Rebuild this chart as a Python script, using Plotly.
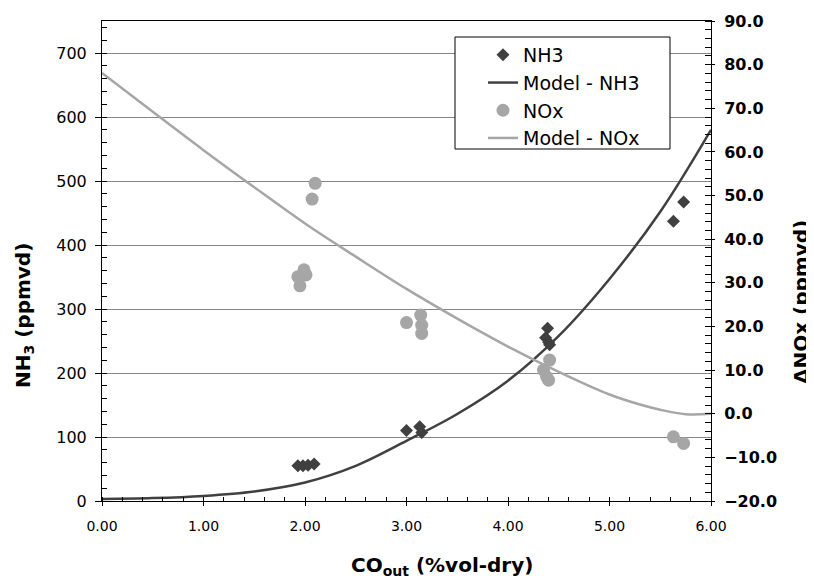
import plotly.graph_objects as go

# ---------------- data ----------------
nh3_x = [1.93, 1.98, 2.03, 2.09, 3.00, 3.13, 3.15, 4.37, 4.39, 4.40, 4.41, 5.63, 5.73]
nh3_y = [55, 55, 56, 58, 110, 116, 107, 255, 270, 248, 244, 437, 467]

nox_x = [1.93, 1.95, 1.99, 2.01, 2.07, 2.10, 3.00, 3.14, 3.15, 3.15, 4.35, 4.38, 4.40, 4.41, 5.63, 5.73]
nox_y = [31.4, 29.3, 33.0, 31.8, 49.2, 52.8, 20.9, 22.6, 20.3, 18.4, 10.0, 8.5, 7.7, 12.3, -5.3, -6.8]

model_nh3_x = [0.0, 0.5, 1.0, 1.5, 2.0, 2.5, 3.0, 3.5, 4.0, 4.5, 5.0, 5.5, 6.0]
model_nh3_y = [3, 4.5, 8, 15, 29, 55, 94, 136, 188, 258, 347, 452, 580]

model_nox_x = [0.0, 0.5, 1.0, 1.5, 2.0, 2.5, 3.0, 3.5, 4.0, 4.5, 5.0, 5.3, 5.5, 5.75, 6.0]
model_nox_y = [78.1, 69.2, 60.4, 51.9, 43.6, 36.0, 28.6, 21.8, 15.4, 9.6, 4.4, 2.1, 0.9, -0.1, 0.0]

x_title = "CO<sub>out</sub> (%vol-dry)"
y_title = "NH<sub>3</sub> (ppmvd)"
y2_title = "ΔNOx (ppmvd)"

DARK = "#404040"
LIGHT = "#a6a6a6"
GRID = "#868686"
FONT = "DejaVu Sans"

# the page body adds an 8px margin, so the figure is drawn 8px smaller and
# all reference pixel positions are shifted by that offset
OFF = 8
W, H = 814 - OFF, 582 - OFF
L, R, T, B = 102 - OFF, 711 - OFF, 21 - OFF, 501 - OFF  # plot area in figure pixels


def px_x(p):
    """reference x pixel -> paper coordinate"""
    return (p - OFF - L) / (R - L)


def px_y(p):
    """reference y pixel -> paper coordinate"""
    return (B - (p - OFF)) / (B - T)


fig = go.Figure()

fig.add_trace(go.Scatter(x=nh3_x, y=nh3_y, mode="markers", name="NH3",
                         marker=dict(symbol="diamond", size=10, color=DARK),
                         xaxis="x", yaxis="y"))
fig.add_trace(go.Scatter(x=model_nh3_x, y=model_nh3_y, mode="lines", name="Model - NH3",
                         line=dict(color=DARK, width=2.5, shape="spline", smoothing=1.0),
                         xaxis="x", yaxis="y"))
fig.add_trace(go.Scatter(x=nox_x, y=nox_y, mode="markers", name="NOx",
                         marker=dict(symbol="circle", size=13, color=LIGHT),
                         xaxis="x", yaxis="y2"))
fig.add_trace(go.Scatter(x=model_nox_x, y=model_nox_y, mode="lines", name="Model - NOx",
                         line=dict(color=LIGHT, width=2.5, shape="spline", smoothing=1.0),
                         xaxis="x", yaxis="y2"))

# dummy traces so the overlay tick axes (inner halves of major ticks) get drawn
for xa, ya in (("x2", "y"), ("x", "y3"), ("x", "y4")):
    fig.add_trace(go.Scatter(x=[None], y=[None], xaxis=xa, yaxis=ya,
                             showlegend=False, hoverinfo="skip"))

tick_common = dict(showgrid=False, zeroline=False, tickcolor="black", linecolor="black",
                   automargin=False)

fig.update_layout(
    template="none",
    width=W, height=H,
    margin=dict(l=L, r=W - R, t=T, b=H - B, pad=0, autoexpand=False),
    paper_bgcolor="white", plot_bgcolor="white",
    font=dict(family=FONT, color="black"),
    showlegend=True,
    xaxis=dict(range=[0, 6], dtick=1, tick0=0, tickformat=".2f",
               ticks="outside", ticklen=4, tickwidth=1,
               showline=True, linewidth=1, mirror=True,
               tickfont=dict(family=FONT, size=14, color="black"),
               ticklabelstandoff=8,
               minor=dict(dtick=0.2, ticks="inside", ticklen=4, tickcolor="black", showgrid=False),
               **tick_common),
    yaxis=dict(range=[0, 750], dtick=100, tick0=0,
               ticks="outside", ticklen=6, tickwidth=1,
               showline=True, linewidth=1,
               showgrid=True, gridcolor=GRID, gridwidth=1,
               zeroline=False, tickcolor="black", linecolor="black", automargin=False,
               tickfont=dict(family=FONT, size=16, color="black"),
               ticklabelstandoff=5,
               minor=dict(dtick=20, ticks="inside", ticklen=5, tickcolor="black", showgrid=False)),
    yaxis2=dict(range=[-20, 90], dtick=10, tick0=0, tickformat=".1f",
                overlaying="y", side="right", anchor="x",
                ticks="outside", ticklen=3, tickwidth=1,
                showline=True, linewidth=1,
                tickfont=dict(family=FONT, size=16, color="black", weight="bold"),
                ticklabelstandoff=6,
                minor=dict(dtick=2, ticks="inside", ticklen=6, tickcolor="black", showgrid=False),
                **tick_common),
    xaxis2=dict(range=[0, 6], dtick=1, tick0=0, overlaying="x", anchor="y", side="bottom",
                ticks="inside", ticklen=4, showticklabels=False, showline=False,
                **tick_common),
    yaxis3=dict(range=[0, 750], dtick=100, tick0=0, overlaying="y", anchor="x", side="left",
                ticks="inside", ticklen=5, showticklabels=False, showline=False,
                **tick_common),
    yaxis4=dict(range=[-20, 90], dtick=10, tick0=0, overlaying="y", anchor="x", side="right",
                ticks="inside", ticklen=6, showticklabels=False, showline=False,
                **tick_common),
    legend=dict(x=px_x(483), y=px_y(36), xanchor="left", yanchor="top",
                bgcolor="rgba(0,0,0,0)", borderwidth=0,
                font=dict(family=FONT, size=19, color="black"),
                tracegroupgap=0),
    shapes=[dict(type="rect", xref="paper", yref="paper",
                 x0=px_x(455), x1=px_x(670), y0=px_y(149), y1=px_y(37),
                 line=dict(color="black", width=1), fillcolor="white", layer="above")],
    annotations=[
        dict(text=y_title, textangle=-90, xref="paper", yref="paper",
             x=px_x(24), y=px_y(316), xanchor="center", yanchor="middle", showarrow=False,
             font=dict(family=FONT, size=20, color="black", weight="bold")),
        dict(text=y2_title, textangle=-90, xref="paper", yref="paper",
             x=px_x(801), y=px_y(302), xanchor="center", yanchor="middle", showarrow=False,
             font=dict(family=FONT, size=20, color="black", weight="bold")),
        dict(text=x_title, xref="paper", yref="paper",
             x=px_x(442), y=px_y(566), xanchor="center", yanchor="middle", showarrow=False,
             font=dict(family=FONT, size=20, color="black", weight="bold")),
    ],
)

fig.write_html("out.html")
